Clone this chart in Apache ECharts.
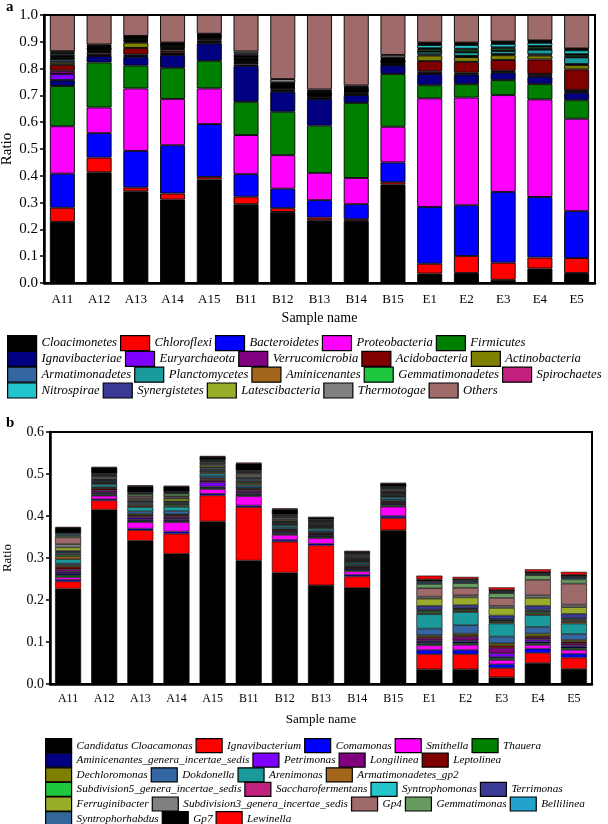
<!DOCTYPE html>
<html>
<head>
<meta charset="utf-8">
<script src="https://cdn.jsdelivr.net/npm/echarts@6/dist/echarts.min.js"></script>
<style>
  html, body { margin: 0; padding: 0; background: #fff; }
  #chart { width: 608px; height: 824px; }
</style>
</head>
<body>
<div id="chart"></div>
<script>
// sample names (both panels)
const samples = ["A11", "A12", "A13", "A14", "A15", "B11", "B12", "B13", "B14", "B15", "E1", "E2", "E3", "E4", "E5"];
const yTicksA = [0, 0.1, 0.2, 0.3, 0.4, 0.5, 0.6, 0.7, 0.8, 0.9, 1.0];
const yTicksB = [0, 0.1, 0.2, 0.3, 0.4, 0.5, 0.6];

// panel a: phyla
const cloacimonetes = [0.228, 0.413, 0.342, 0.311, 0.386, 0.294, 0.265, 0.234, 0.231, 0.367, 0.035, 0.037, 0.012, 0.054, 0.037];
const chloroflexi = [0.053, 0.055, 0.014, 0.023, 0.010, 0.028, 0.014, 0.010, 0.007, 0.009, 0.037, 0.064, 0.064, 0.041, 0.056];
const bacteroidetes = [0.127, 0.091, 0.137, 0.180, 0.197, 0.084, 0.073, 0.065, 0.056, 0.074, 0.212, 0.189, 0.264, 0.226, 0.175];
const proteobacteria = [0.177, 0.096, 0.233, 0.173, 0.133, 0.146, 0.125, 0.102, 0.098, 0.133, 0.405, 0.402, 0.361, 0.364, 0.345];
const firmicutes = [0.150, 0.168, 0.085, 0.116, 0.103, 0.124, 0.162, 0.176, 0.280, 0.197, 0.049, 0.050, 0.056, 0.057, 0.069];
const ignavibacteriae = [0.022, 0.024, 0.033, 0.048, 0.065, 0.134, 0.075, 0.100, 0.029, 0.032, 0.042, 0.036, 0.028, 0.028, 0.028];
const euryarchaeota = [0.023, 0.003, 0.003, 0.003, 0.003, 0.005, 0.003, 0.002, 0.002, 0.002, 0.003, 0.003, 0.003, 0.003, 0.003];
const verrucomicrobia = [0.012, 0.007, 0.006, 0.005, 0.003, 0.006, 0.004, 0.003, 0.003, 0.002, 0.007, 0.004, 0.004, 0.007, 0.007];
const acidobacteria = [0.022, 0.005, 0.024, 0.008, 0.005, 0.004, 0.006, 0.005, 0.006, 0.004, 0.038, 0.040, 0.040, 0.054, 0.077];
const actinobacteria = [0.008, 0.003, 0.020, 0.006, 0.004, 0.004, 0.002, 0.002, 0.002, 0.002, 0.021, 0.018, 0.018, 0.015, 0.016];
const armatimonadetes = [0.008, 0.003, 0.003, 0.003, 0.003, 0.003, 0.002, 0.002, 0.002, 0.002, 0.004, 0.004, 0.004, 0.004, 0.004];
const planctomycetes = [0.006, 0.003, 0.004, 0.004, 0.003, 0.003, 0.002, 0.002, 0.002, 0.002, 0.010, 0.014, 0.012, 0.018, 0.025];
const aminicenantes = [0.004, 0.002, 0.002, 0.002, 0.002, 0.002, 0.002, 0.002, 0.002, 0.002, 0.002, 0.002, 0.002, 0.002, 0.002];
const gemmatimonadetes = [0.004, 0.002, 0.005, 0.004, 0.002, 0.004, 0.002, 0.002, 0.002, 0.002, 0.008, 0.008, 0.008, 0.008, 0.007];
const spirochaetes = [0.003, 0.002, 0.002, 0.002, 0.002, 0.003, 0.002, 0.002, 0.002, 0.002, 0.003, 0.003, 0.003, 0.003, 0.003];
const nitrospirae = [0.006, 0.003, 0.003, 0.002, 0.002, 0.002, 0.002, 0.002, 0.002, 0.003, 0.012, 0.014, 0.013, 0.012, 0.014];
const synergistetes = [0.004, 0.004, 0.002, 0.002, 0.003, 0.006, 0.005, 0.004, 0.004, 0.004, 0.004, 0.004, 0.004, 0.004, 0.003];
const latescibacteria = [0.003, 0.002, 0.002, 0.003, 0.002, 0.004, 0.002, 0.002, 0.002, 0.002, 0.003, 0.003, 0.003, 0.003, 0.002];
const thermotogae = [0.005, 0.004, 0.002, 0.002, 0.002, 0.008, 0.013, 0.005, 0.005, 0.010, 0.002, 0.002, 0.002, 0.002, 0.002];
const othersA = [0.135, 0.110, 0.078, 0.103, 0.070, 0.136, 0.239, 0.278, 0.263, 0.149, 0.103, 0.103, 0.099, 0.095, 0.125];

// panel b: genera
const cloacamonas = [0.227, 0.415, 0.341, 0.310, 0.387, 0.294, 0.265, 0.235, 0.229, 0.366, 0.035, 0.035, 0.016, 0.050, 0.036];
const ignavibacterium = [0.017, 0.022, 0.025, 0.048, 0.062, 0.127, 0.074, 0.095, 0.027, 0.029, 0.036, 0.036, 0.022, 0.024, 0.027];
const comamonas = [0.004, 0.003, 0.004, 0.005, 0.004, 0.004, 0.004, 0.004, 0.004, 0.005, 0.010, 0.010, 0.009, 0.010, 0.009];
const smithella = [0.006, 0.008, 0.015, 0.022, 0.011, 0.022, 0.012, 0.013, 0.008, 0.022, 0.011, 0.012, 0.010, 0.009, 0.009];
const thauera = [0.005, 0.003, 0.003, 0.003, 0.003, 0.003, 0.003, 0.003, 0.003, 0.003, 0.004, 0.004, 0.004, 0.004, 0.004];
const aminicenantesGIS = [0.005, 0.003, 0.004, 0.004, 0.003, 0.004, 0.003, 0.003, 0.003, 0.003, 0.004, 0.004, 0.003, 0.004, 0.004];
const petrimonas = [0.003, 0.002, 0.004, 0.003, 0.010, 0.003, 0.002, 0.002, 0.002, 0.002, 0.003, 0.003, 0.009, 0.005, 0.003];
const longilinea = [0.006, 0.005, 0.003, 0.004, 0.004, 0.004, 0.002, 0.002, 0.002, 0.002, 0.005, 0.008, 0.013, 0.004, 0.005];
const leptolinea = [0.006, 0.004, 0.003, 0.003, 0.003, 0.003, 0.002, 0.002, 0.002, 0.002, 0.004, 0.004, 0.006, 0.004, 0.004];
const dechloromonas = [0.004, 0.002, 0.003, 0.002, 0.003, 0.002, 0.002, 0.002, 0.002, 0.002, 0.004, 0.004, 0.005, 0.006, 0.004];
const dokdonella = [0.004, 0.003, 0.006, 0.008, 0.005, 0.004, 0.004, 0.004, 0.003, 0.004, 0.016, 0.020, 0.016, 0.016, 0.014];
const arenimonas = [0.010, 0.006, 0.010, 0.010, 0.006, 0.004, 0.005, 0.005, 0.004, 0.005, 0.034, 0.031, 0.031, 0.028, 0.025];
const armatimonadetesGp2 = [0.007, 0.002, 0.003, 0.003, 0.003, 0.004, 0.002, 0.002, 0.002, 0.002, 0.003, 0.003, 0.003, 0.003, 0.004];
const subdivision5 = [0.004, 0.002, 0.003, 0.003, 0.003, 0.003, 0.002, 0.002, 0.002, 0.002, 0.004, 0.003, 0.003, 0.004, 0.003];
const saccharofermentans = [0.003, 0.002, 0.003, 0.002, 0.003, 0.003, 0.002, 0.002, 0.002, 0.002, 0.002, 0.002, 0.002, 0.003, 0.003];
const syntrophomonas = [0.003, 0.002, 0.003, 0.003, 0.003, 0.003, 0.002, 0.002, 0.002, 0.002, 0.002, 0.002, 0.002, 0.003, 0.003];
const terrimonas = [0.003, 0.002, 0.003, 0.002, 0.003, 0.003, 0.002, 0.002, 0.002, 0.002, 0.009, 0.007, 0.009, 0.009, 0.010];
const ferruginibacter = [0.008, 0.002, 0.003, 0.006, 0.004, 0.003, 0.003, 0.002, 0.002, 0.002, 0.017, 0.018, 0.018, 0.019, 0.016];
const subdivision3 = [0.008, 0.004, 0.003, 0.003, 0.003, 0.005, 0.003, 0.002, 0.002, 0.002, 0.005, 0.005, 0.005, 0.006, 0.006];
const gp4 = [0.016, 0.003, 0.005, 0.003, 0.003, 0.004, 0.003, 0.002, 0.003, 0.004, 0.020, 0.018, 0.019, 0.037, 0.050];
const gemmatimonas = [0.004, 0.002, 0.005, 0.006, 0.003, 0.002, 0.002, 0.002, 0.002, 0.002, 0.010, 0.011, 0.011, 0.011, 0.010];
const bellilinea = [0.003, 0.002, 0.002, 0.002, 0.002, 0.002, 0.002, 0.002, 0.002, 0.002, 0.003, 0.003, 0.002, 0.002, 0.003];
const syntrophorhabdus = [0.003, 0.002, 0.002, 0.002, 0.002, 0.002, 0.002, 0.002, 0.002, 0.002, 0.003, 0.003, 0.002, 0.002, 0.003];
const gp7 = [0.013, 0.014, 0.015, 0.013, 0.008, 0.017, 0.013, 0.004, 0.003, 0.008, 0.005, 0.004, 0.004, 0.004, 0.005];
const lewinella = [0.002, 0.002, 0.002, 0.002, 0.002, 0.002, 0.002, 0.002, 0.002, 0.002, 0.009, 0.005, 0.006, 0.006, 0.007];

// series lists: [legend name, values, colour]
const phyla = [
  ["Cloacimonetes", cloacimonetes, "#000000"],
  ["Chloroflexi", chloroflexi, "#ff0000"],
  ["Bacteroidetes", bacteroidetes, "#0000ff"],
  ["Proteobacteria", proteobacteria, "#ff00ff"],
  ["Firmicutes", firmicutes, "#008000"],
  ["Ignavibacteriae", ignavibacteriae, "#000080"],
  ["Euryarchaeota", euryarchaeota, "#8000ff"],
  ["Verrucomicrobia", verrucomicrobia, "#800080"],
  ["Acidobacteria", acidobacteria, "#800000"],
  ["Actinobacteria", actinobacteria, "#808000"],
  ["Armatimonadetes", armatimonadetes, "#3366a3"],
  ["Planctomycetes", planctomycetes, "#1b9a9c"],
  ["Aminicenantes", aminicenantes, "#a3661c"],
  ["Gemmatimonadetes", gemmatimonadetes, "#1ec83e"],
  ["Spirochaetes", spirochaetes, "#c2207f"],
  ["Nitrospirae", nitrospirae, "#22c5cc"],
  ["Synergistetes", synergistetes, "#3a3a96"],
  ["Latescibacteria", latescibacteria, "#9aad2a"],
  ["Thermotogae", thermotogae, "#808080"],
  ["Others", othersA, "#9e6a6a"]
];
const genera = [
  ["Candidatus Cloacamonas", cloacamonas, "#000000"],
  ["Ignavibacterium", ignavibacterium, "#ff0000"],
  ["Comamonas", comamonas, "#0000ff"],
  ["Smithella", smithella, "#ff00ff"],
  ["Thauera", thauera, "#008000"],
  ["Aminicenantes_genera_incertae_sedis", aminicenantesGIS, "#000080"],
  ["Petrimonas", petrimonas, "#8000ff"],
  ["Longilinea", longilinea, "#800080"],
  ["Leptolinea", leptolinea, "#800000"],
  ["Dechloromonas", dechloromonas, "#808000"],
  ["Dokdonella", dokdonella, "#3366a3"],
  ["Arenimonas", arenimonas, "#1b9a9c"],
  ["Armatimonadetes_gp2", armatimonadetesGp2, "#a3661c"],
  ["Subdivision5_genera_incertae_sedis", subdivision5, "#1ec83e"],
  ["Saccharofermentans", saccharofermentans, "#c2207f"],
  ["Syntrophomonas", syntrophomonas, "#22c5cc"],
  ["Terrimonas", terrimonas, "#3a3a96"],
  ["Ferruginibacter", ferruginibacter, "#9aad2a"],
  ["Subdivision3_genera_incertae_sedis", subdivision3, "#808080"],
  ["Gp4", gp4, "#9e6a6a"],
  ["Gemmatimonas", gemmatimonas, "#679a5e"],
  ["Bellilinea", bellilinea, "#22a3cc"],
  ["Syntrophorhabdus", syntrophorhabdus, "#336699"],
  ["Gp7", gp7, "#000000"],
  ["Lewinella", lewinella, "#ff0000"]
];

const serif = "Liberation Serif";
const chart = echarts.init(document.getElementById("chart"));

function makeSeries(list, idx, barWidth, border) {
  return list.map(function (s) {
    return {
      name: s[0],
      type: "bar",
      stack: "s" + idx,
      xAxisIndex: idx,
      yAxisIndex: idx,
      barWidth: barWidth,
      data: s[1],
      itemStyle: { color: s[2], borderColor: "#000", borderWidth: border }
    };
  });
}

// one legend component per printed row so the rows break where the figure does
function makeLegends(list, rows, left, top, step, h, w, gap, fontSize) {
  let out = [];
  let start = 0;
  rows.forEach(function (n, r) {
    out.push({
      data: list.slice(start, start + n).map(function (s) { return s[0]; }),
      left: left,
      top: top + r * step,
      width: 700,
      orient: "horizontal",
      padding: 0,
      itemGap: gap,
      itemWidth: w,
      itemHeight: h,
      icon: "rect",
      selectedMode: false,
      itemStyle: { borderColor: "#000", borderWidth: 1.2 },
      textStyle: { fontFamily: serif, fontStyle: "italic", fontSize: fontSize, color: "#000" }
    });
    start += n;
  });
  return out;
}

function xAx(idx, fontSize, margin, nameGap, nameSize) {
  return {
    type: "category",
    gridIndex: idx,
    data: samples,
    name: "Sample name",
    nameLocation: "middle",
    nameGap: nameGap,
    nameMoveOverlap: false,
    nameTextStyle: { fontFamily: serif, fontSize: nameSize, color: "#000" },
    axisLine: { lineStyle: { color: "#000", width: 2.5 } },
    axisTick: { alignWithLabel: true, length: 5, lineStyle: { width: 2, color: "#000" } },
    axisLabel: { fontFamily: serif, fontSize: fontSize, color: "#000", margin: margin, interval: 0 }
  };
}

function yAx(idx, ticks, fontSize, nameGap, nameSize) {
  return {
    type: "value",
    gridIndex: idx,
    min: ticks[0],
    max: ticks[ticks.length - 1],
    interval: 0.1,
    name: "Ratio",
    nameLocation: "middle",
    nameGap: nameGap,
    nameMoveOverlap: false,
    nameTextStyle: { fontFamily: serif, fontSize: nameSize, color: "#000" },
    splitLine: { show: false },
    axisLine: { show: true, lineStyle: { color: "#000", width: 2.5 } },
    axisTick: { show: true, length: 4, lineStyle: { width: 1.5, color: "#000" } },
    axisLabel: { fontFamily: serif, fontSize: fontSize, color: "#000", margin: 6, formatter: function (v) { return v.toFixed(1); } }
  };
}

const option = {
  animation: false,
  backgroundColor: "#fff",
  title: [
    { text: "a", left: 1, top: -5, textStyle: { fontFamily: serif, fontWeight: "bold", fontSize: 15, color: "#000" } },
    { text: "b", left: 1, top: 411, textStyle: { fontFamily: serif, fontWeight: "bold", fontSize: 15, color: "#000" } }
  ],
  grid: [
    { left: 44, right: 13, top: 15, height: 268, show: true, borderColor: "#000", borderWidth: 2, containLabel: false, outerBoundsMode: "none" },
    { left: 50, right: 16, top: 432, height: 252, show: true, borderColor: "#000", borderWidth: 2, containLabel: false, outerBoundsMode: "none" }
  ],
  legend: makeLegends(phyla, [5, 5, 5, 5], 7, 335, 15.8, 15, 29, 3, 12.7)
    .concat(makeLegends(genera, [5, 4, 4, 4, 5, 3], 45, 738, 14.6, 14, 26, 3, 11.2)),
  xAxis: [xAx(0, 13, 10, 28, 14), xAx(1, 12, 9, 29, 13)],
  yAxis: [yAx(0, yTicksA, 15, 29, 15), yAx(1, yTicksB, 14, 36, 13)],
  series: makeSeries(phyla, 0, 25, 0.9).concat(makeSeries(genera, 1, 26, 0.6))
};

chart.setOption(option);
</script>
</body>
</html>
